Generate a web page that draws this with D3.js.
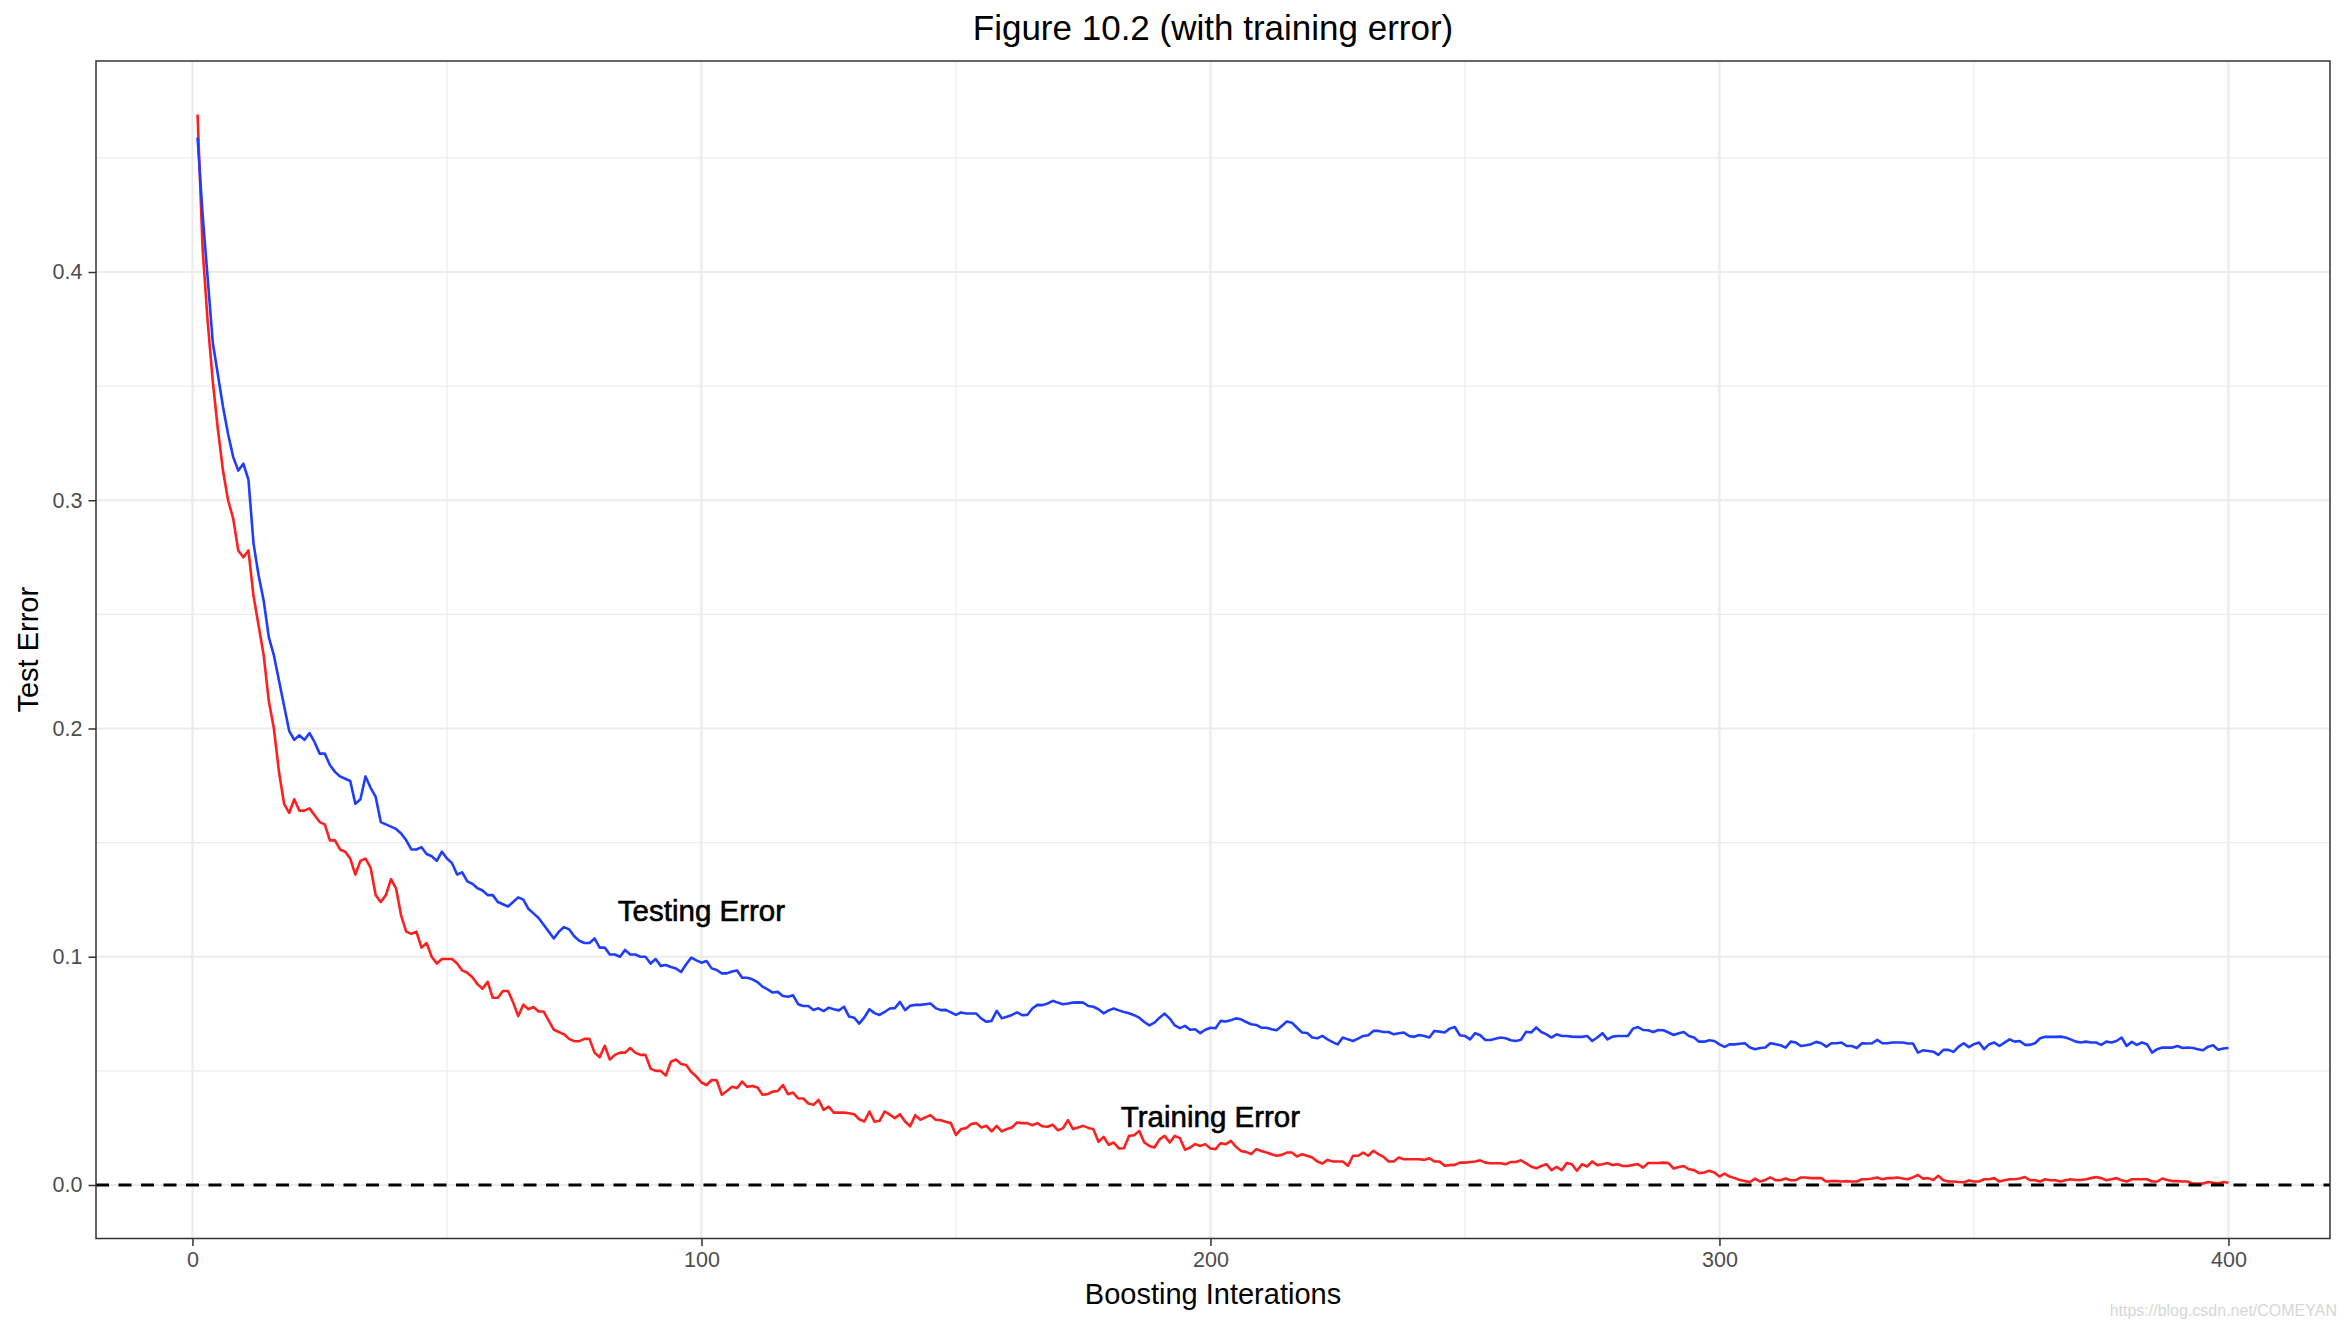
<!doctype HTML>
<html>
<head>
<meta charset="utf-8">
<script src="https://d3js.org/d3.v7.min.js"></script>
<style>
  body { margin: 0; background: #fff; }
  svg text { font-family: "Liberation Sans", Arial, sans-serif; }
</style>
</head>
<body>
<div id="chart"></div>
<script>
// boosting iterations 1..400
var iterations = d3.range(1, 401);

// training error (red)
var trainError = [
  0.469, 0.410, 0.378, 0.352, 0.331, 0.313, 0.300, 0.292, 0.278, 0.275,
  0.278, 0.258, 0.245, 0.232, 0.212, 0.200, 0.181, 0.167, 0.163, 0.169,
  0.164, 0.164, 0.165, 0.162, 0.159, 0.158, 0.151, 0.151, 0.147, 0.146,
  0.143, 0.136, 0.142, 0.143, 0.139, 0.127, 0.124, 0.127, 0.134, 0.130,
  0.118, 0.111, 0.110, 0.111, 0.104, 0.106, 0.100, 0.097, 0.099, 0.099,
  0.099, 0.097, 0.094, 0.093, 0.091, 0.088, 0.086, 0.089, 0.082, 0.082,
  0.085, 0.085, 0.080, 0.074, 0.079, 0.077, 0.078, 0.076, 0.076, 0.072,
  0.068, 0.067, 0.066, 0.064, 0.063, 0.063, 0.064, 0.064, 0.058, 0.056,
  0.061, 0.055, 0.057, 0.058, 0.058, 0.060, 0.058, 0.057, 0.057, 0.051,
  0.050, 0.050, 0.048, 0.054, 0.055, 0.053, 0.0526, 0.0495, 0.0475, 0.0449,
  0.0438, 0.0460, 0.0459, 0.0395, 0.0412, 0.0430, 0.0425, 0.0453, 0.0430, 0.0434,
  0.0427, 0.0395, 0.0398, 0.0409, 0.0412, 0.0438, 0.0398, 0.0405, 0.0379, 0.0379,
  0.0357, 0.0351, 0.0373, 0.0329, 0.0343, 0.0317, 0.0317, 0.0317, 0.0314, 0.0310,
  0.0288, 0.0278, 0.0322, 0.0277, 0.0281, 0.0322, 0.0308, 0.0293, 0.0310, 0.0278,
  0.0257, 0.0306, 0.0286, 0.0296, 0.0306, 0.0286, 0.0284, 0.0277, 0.0271, 0.0219,
  0.0245, 0.0249, 0.0267, 0.0271, 0.0252, 0.0259, 0.0235, 0.0259, 0.0235, 0.0245,
  0.0252, 0.0274, 0.0271, 0.0271, 0.0262, 0.0271, 0.0257, 0.0255, 0.0264, 0.0240,
  0.0248, 0.0284, 0.0245, 0.0252, 0.0259, 0.0250, 0.0244, 0.0189, 0.0211, 0.0176,
  0.0186, 0.0160, 0.0161, 0.0215, 0.0218, 0.0237, 0.0186, 0.0171, 0.0164, 0.0200,
  0.0215, 0.0186, 0.0215, 0.0205, 0.0154, 0.0164, 0.0179, 0.0171, 0.0179, 0.0160,
  0.0157, 0.0183, 0.0179, 0.0193, 0.0168, 0.0149, 0.0145, 0.0135, 0.0157, 0.0149,
  0.0142, 0.0135, 0.0128, 0.0132, 0.0142, 0.0142, 0.0125, 0.0135, 0.0128, 0.0120,
  0.0103, 0.0094, 0.0110, 0.0103, 0.0103, 0.0103, 0.0084, 0.0128, 0.0128, 0.0142,
  0.0128, 0.0150, 0.0135, 0.0123, 0.0103, 0.0103, 0.0120, 0.0113, 0.0113, 0.0113,
  0.0113, 0.0110, 0.0117, 0.0103, 0.0103, 0.0084, 0.0087, 0.0088, 0.0098, 0.0098,
  0.0101, 0.0103, 0.0108, 0.0098, 0.0095, 0.0095, 0.0095, 0.0091, 0.0101, 0.0101,
  0.0108, 0.0095, 0.0081, 0.0073, 0.0083, 0.0091, 0.0065, 0.0079, 0.0065, 0.0096,
  0.0091, 0.0062, 0.0091, 0.0081, 0.0103, 0.0087, 0.0091, 0.0096, 0.0087, 0.0091,
  0.0083, 0.0083, 0.0088, 0.0091, 0.0076, 0.0096, 0.0096, 0.0096, 0.0098, 0.0096,
  0.0072, 0.0079, 0.0083, 0.0069, 0.0065, 0.0052, 0.0055, 0.0062, 0.0055, 0.0037,
  0.0050, 0.0037, 0.0030, 0.0022, 0.0017, 0.0013, 0.0028, 0.0015, 0.0022, 0.0033,
  0.0021, 0.0021, 0.0028, 0.0021, 0.0021, 0.0033, 0.0033, 0.0030, 0.0030, 0.0030,
  0.0015, 0.0017, 0.0017, 0.0015, 0.0017, 0.0015, 0.0015, 0.0025, 0.0025, 0.0028,
  0.0033, 0.0025, 0.0030, 0.0030, 0.0033, 0.0028, 0.0025, 0.0033, 0.0044, 0.0028,
  0.0030, 0.0022, 0.0040, 0.0021, 0.0015, 0.0015, 0.0013, 0.0012, 0.0020, 0.0015,
  0.0015, 0.0025, 0.0025, 0.0030, 0.0015, 0.0021, 0.0025, 0.0025, 0.0028, 0.0035,
  0.0021, 0.0021, 0.0015, 0.0025, 0.0021, 0.0021, 0.0015, 0.0021, 0.0025, 0.0022,
  0.0022, 0.0025, 0.0030, 0.0035, 0.0030, 0.0021, 0.0025, 0.0030, 0.0021, 0.0015,
  0.0025, 0.0025, 0.0025, 0.0025, 0.0015, 0.0015, 0.0028, 0.0022, 0.0017, 0.0017,
  0.0015, 0.0015, 0.0006, 0.0006, 0.0006, 0.0013, 0.0010, 0.0006, 0.0013, 0.0010
];

// test error (blue)
var testError = [
  0.459, 0.425, 0.397, 0.369, 0.355, 0.341, 0.329, 0.319, 0.313, 0.316,
  0.309, 0.281, 0.267, 0.256, 0.240, 0.232, 0.221, 0.210, 0.199, 0.195,
  0.197, 0.195, 0.198, 0.194, 0.189, 0.189, 0.184, 0.181, 0.179, 0.178,
  0.177, 0.167, 0.169, 0.179, 0.174, 0.170, 0.159, 0.158, 0.157, 0.156,
  0.154, 0.151, 0.147, 0.147, 0.148, 0.145, 0.144, 0.142, 0.146, 0.143,
  0.141, 0.136, 0.137, 0.133, 0.132, 0.130, 0.129, 0.127, 0.127, 0.124,
  0.123, 0.122, 0.124, 0.126, 0.125, 0.121, 0.119, 0.117, 0.114, 0.111,
  0.108, 0.111, 0.113, 0.112, 0.109, 0.107, 0.106, 0.106, 0.108, 0.104,
  0.104, 0.101, 0.101, 0.100, 0.103, 0.101, 0.101, 0.100, 0.100, 0.097,
  0.099, 0.096, 0.0964, 0.0955, 0.0948, 0.0933, 0.0967, 0.0996, 0.0984, 0.0974,
  0.0981, 0.0949, 0.0942, 0.0927, 0.0927, 0.0935, 0.0940, 0.0908, 0.0908, 0.0901,
  0.0889, 0.0869, 0.0857, 0.0843, 0.0846, 0.0828, 0.0825, 0.0831, 0.0792, 0.0784,
  0.0784, 0.0767, 0.0774, 0.0762, 0.0777, 0.0770, 0.0765, 0.0781, 0.0738, 0.0733,
  0.0707, 0.0734, 0.0770, 0.0753, 0.0745, 0.0758, 0.0773, 0.0775, 0.0802, 0.0766,
  0.0785, 0.0789, 0.0789, 0.0792, 0.0795, 0.0775, 0.0766, 0.0767, 0.0756, 0.0745,
  0.0756, 0.0751, 0.0751, 0.0751, 0.0729, 0.0715, 0.0719, 0.0763, 0.0731, 0.0737,
  0.0745, 0.0756, 0.0744, 0.0745, 0.0773, 0.0789, 0.0788, 0.0795, 0.0807, 0.0799,
  0.0792, 0.0795, 0.0799, 0.0800, 0.0799, 0.0784, 0.0781, 0.0770, 0.0752, 0.0765,
  0.0773, 0.0765, 0.0758, 0.0752, 0.0744, 0.0733, 0.0714, 0.0699, 0.0711, 0.0733,
  0.0751, 0.0729, 0.0699, 0.0687, 0.0697, 0.0680, 0.0682, 0.0665, 0.0680, 0.0689,
  0.0687, 0.0719, 0.0716, 0.0722, 0.0730, 0.0726, 0.0714, 0.0704, 0.0701, 0.0689,
  0.0689, 0.0682, 0.0678, 0.0697, 0.0716, 0.0711, 0.0689, 0.0668, 0.0666, 0.0646,
  0.0643, 0.0653, 0.0638, 0.0626, 0.0616, 0.0646, 0.0638, 0.0631, 0.0641, 0.0653,
  0.0656, 0.0675, 0.0675, 0.0670, 0.0670, 0.0660, 0.0665, 0.0668, 0.0653, 0.0649,
  0.0657, 0.0653, 0.0646, 0.0675, 0.0672, 0.0668, 0.0685, 0.0692, 0.0656, 0.0653,
  0.0638, 0.0665, 0.0656, 0.0635, 0.0635, 0.0641, 0.0646, 0.0643, 0.0634, 0.0631,
  0.0636, 0.0671, 0.0668, 0.0690, 0.0670, 0.0660, 0.0646, 0.0660, 0.0653, 0.0653,
  0.0650, 0.0649, 0.0649, 0.0653, 0.0631, 0.0646, 0.0665, 0.0638, 0.0650, 0.0653,
  0.0653, 0.0653, 0.0685, 0.0692, 0.0679, 0.0678, 0.0670, 0.0679, 0.0678, 0.0668,
  0.0657, 0.0665, 0.0670, 0.0653, 0.0646, 0.0628, 0.0628, 0.0634, 0.0631, 0.0616,
  0.0605, 0.0616, 0.0616, 0.0619, 0.0621, 0.0602, 0.0595, 0.0600, 0.0602, 0.0621,
  0.0617, 0.0612, 0.0602, 0.0628, 0.0624, 0.0609, 0.0612, 0.0617, 0.0627, 0.0621,
  0.0606, 0.0621, 0.0621, 0.0624, 0.0609, 0.0609, 0.0600, 0.0621, 0.0620, 0.0621,
  0.0636, 0.0621, 0.0621, 0.0624, 0.0624, 0.0624, 0.0620, 0.0620, 0.0580, 0.0590,
  0.0587, 0.0584, 0.0570, 0.0592, 0.0592, 0.0583, 0.0606, 0.0621, 0.0604, 0.0617,
  0.0624, 0.0595, 0.0617, 0.0624, 0.0609, 0.0624, 0.0638, 0.0628, 0.0631, 0.0614,
  0.0614, 0.0621, 0.0643, 0.0649, 0.0649, 0.0649, 0.0650, 0.0646, 0.0638, 0.0628,
  0.0624, 0.0628, 0.0624, 0.0624, 0.0614, 0.0628, 0.0624, 0.0631, 0.0646, 0.0609,
  0.0627, 0.0614, 0.0624, 0.0617, 0.0580, 0.0595, 0.0602, 0.0602, 0.0602, 0.0609,
  0.0600, 0.0602, 0.0600, 0.0595, 0.0590, 0.0606, 0.0612, 0.0592, 0.0598, 0.0600
];

var xTicks = [0, 100, 200, 300, 400];
var xMinor = [50, 150, 250, 350];
var yTicks = [0.0, 0.1, 0.2, 0.3, 0.4];
var yMinor = [0.05, 0.15, 0.25, 0.35, 0.45];

var labels = [
  {text: "Testing Error", x: 100, y: 0.12},
  {text: "Training Error", x: 200, y: 0.03}
];

var W = 2346, H = 1326;
var panel = {left: 96, right: 2330, top: 61, bottom: 1238.5};

var svg = d3.select("#chart").append("svg")
  .attr("width", W).attr("height", H);

// ggplot style 5% expansion
var xExt = [1, 400];
var xPad = (xExt[1] - xExt[0]) * 0.05;
var x = d3.scaleLinear()
  .domain([xExt[0] - xPad, xExt[1] + xPad])
  .range([panel.left, panel.right]);

var yMax = d3.max(trainError.concat(testError));
var yPad = yMax * 0.05;
var y = d3.scaleLinear()
  .domain([0 - yPad, yMax + yPad])
  .range([panel.bottom, panel.top]);

// grid
var grid = svg.append("g");
grid.selectAll(".xminor").data(xMinor).enter().append("line")
  .attr("x1", d => x(d)).attr("x2", d => x(d))
  .attr("y1", panel.top).attr("y2", panel.bottom)
  .attr("stroke", "#ebebeb").attr("stroke-width", 1.1);
grid.selectAll(".yminor").data(yMinor).enter().append("line")
  .attr("y1", d => y(d)).attr("y2", d => y(d))
  .attr("x1", panel.left).attr("x2", panel.right)
  .attr("stroke", "#ebebeb").attr("stroke-width", 1.1);
grid.selectAll(".xmajor").data(xTicks).enter().append("line")
  .attr("x1", d => x(d)).attr("x2", d => x(d))
  .attr("y1", panel.top).attr("y2", panel.bottom)
  .attr("stroke", "#ebebeb").attr("stroke-width", 2.2);
grid.selectAll(".ymajor").data(yTicks).enter().append("line")
  .attr("y1", d => y(d)).attr("y2", d => y(d))
  .attr("x1", panel.left).attr("x2", panel.right)
  .attr("stroke", "#ebebeb").attr("stroke-width", 2.2);

// lines
var line = d3.line()
  .x((d, i) => x(iterations[i]))
  .y(d => y(d));

svg.append("path").datum(trainError)
  .attr("d", line)
  .attr("fill", "none")
  .attr("stroke", "#ff1f1f")
  .attr("stroke-width", 2.6)
  .attr("stroke-linejoin", "round");

svg.append("path").datum(testError)
  .attr("d", line)
  .attr("fill", "none")
  .attr("stroke", "#1f3dff")
  .attr("stroke-width", 2.6)
  .attr("stroke-linejoin", "round");

// zero reference line
svg.append("line")
  .attr("x1", panel.left).attr("x2", panel.right)
  .attr("y1", y(0)).attr("y2", y(0))
  .attr("stroke", "#000")
  .attr("stroke-width", 2.8)
  .attr("stroke-dasharray", "13,9.5");

// annotations
svg.selectAll(".lab").data(labels).enter().append("text")
  .attr("x", d => x(d.x))
  .attr("y", d => y(d.y))
  .attr("dy", "0.35em")
  .attr("text-anchor", "middle")
  .attr("font-size", 29.5)
  .attr("fill", "#000")
  .attr("stroke", "#000")
  .attr("stroke-width", 0.6)
  .text(d => d.text);

// panel border
svg.append("rect")
  .attr("x", panel.left).attr("y", panel.top)
  .attr("width", panel.right - panel.left)
  .attr("height", panel.bottom - panel.top)
  .attr("fill", "none")
  .attr("stroke", "#333")
  .attr("stroke-width", 1.5);

// axes
var xAxis = svg.append("g")
  .attr("transform", "translate(0," + panel.bottom + ")")
  .call(d3.axisBottom(x).tickValues(xTicks).tickSize(7.5).tickPadding(6)
    .tickFormat(d3.format("d")));
var yAxis = svg.append("g")
  .attr("transform", "translate(" + panel.left + ",0)")
  .call(d3.axisLeft(y).tickValues(yTicks).tickSize(7.5).tickPadding(6)
    .tickFormat(d3.format(".1f")));

[xAxis, yAxis].forEach(function(a) {
  a.select(".domain").remove();
  a.selectAll(".tick line").attr("stroke", "#333").attr("stroke-width", 1.5);
  a.selectAll(".tick text")
    .attr("fill", "#4d4d4d")
    .attr("font-size", 21.5)
    .attr("font-family", "Liberation Sans, Arial, sans-serif");
});

// titles
svg.append("text")
  .attr("x", (panel.left + panel.right) / 2)
  .attr("y", 40)
  .attr("text-anchor", "middle")
  .attr("font-size", 35)
  .attr("fill", "#000")
  .text("Figure 10.2 (with training error)");

svg.append("text")
  .attr("x", (panel.left + panel.right) / 2)
  .attr("y", 1304)
  .attr("text-anchor", "middle")
  .attr("font-size", 29)
  .attr("fill", "#000")
  .text("Boosting Interations");

svg.append("text")
  .attr("transform", "translate(38," + ((panel.top + panel.bottom) / 2) + ") rotate(-90)")
  .attr("text-anchor", "middle")
  .attr("font-size", 29)
  .attr("fill", "#000")
  .text("Test Error");

// watermark
svg.append("text")
  .attr("x", 2337)
  .attr("y", 1316)
  .attr("text-anchor", "end")
  .attr("font-size", 16)
  .attr("fill", "#d6d6d6")
  .text("https://blog.csdn.net/COMEYAN");
</script>
</body>
</html>
